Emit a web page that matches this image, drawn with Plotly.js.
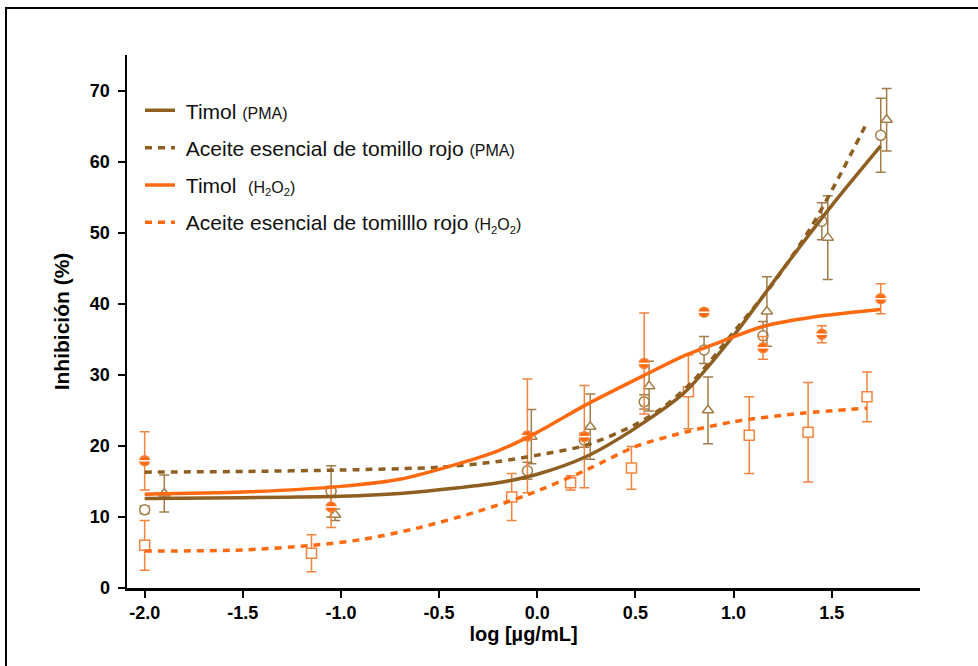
<!DOCTYPE html>
<html>
<head>
<meta charset="utf-8">
<script src="https://cdn.plot.ly/plotly-3.0.1.min.js"></script>
<style>
  html, body { margin: 0; padding: 0; background: #fff; }
  #chart { width: 978px; height: 666px; position: absolute; left: 0; top: 0; }
  #frame { position: absolute; left: 5px; top: 7px; width: 980px; height: 670px; border: 2px solid #000; pointer-events: none; box-sizing: border-box; }
</style>
</head>
<body>
<div id="chart"></div>
<div id="frame"></div>
<script>
// ---- Measured data points (mean ± error) ----
const timolPmaX   = [-2.0, -1.05, -0.05, 0.24, 0.545, 0.85, 1.15, 1.45, 1.75];
const timolPmaY   = [11.0, 13.6, 16.5, 20.8, 26.2, 33.5, 35.5, 51.6, 63.7];
const timolPmaErr = [0.5, 3.6, 1.2, 1.0, 1.0, 1.9, 2.0, 2.6, 5.2];

const aceitePmaX   = [-1.9, -1.03, -0.03, 0.27, 0.57, 0.87, 1.17, 1.48, 1.78];
const aceitePmaY   = [13.3, 10.3, 21.3, 22.7, 28.4, 25.0, 38.9, 49.3, 65.9];
const aceitePmaErr = [2.6, 0.8, 3.8, 4.6, 3.5, 4.7, 4.9, 5.9, 4.4];

const timolH2o2X   = [-2.0, -1.05, -0.05, 0.24, 0.545, 0.85, 1.15, 1.45, 1.75];
const timolH2o2Y   = [17.9, 11.4, 21.4, 21.3, 31.6, 38.8, 33.8, 35.7, 40.7];
const timolH2o2Err = [4.1, 2.9, 8.0, 7.2, 7.1, 0.4, 1.6, 1.2, 2.1];

const aceiteH2o2X   = [-2.0, -1.15, -0.13, 0.17, 0.48, 0.77, 1.08, 1.38, 1.68];
const aceiteH2o2Y   = [6.0, 4.9, 12.8, 14.8, 16.9, 27.6, 21.5, 21.9, 26.9];
const aceiteH2o2Err = [3.5, 2.6, 3.3, 1.0, 3.0, 5.2, 5.4, 7.0, 3.5];

// ---- Fitted curves ----
const fitTimolPmaX = [-2.0, -1.5, -1.0, -0.7, -0.4, -0.2, 0.0, 0.25, 0.5, 0.75, 1.0, 1.25, 1.5, 1.75];
const fitTimolPmaY = [12.6, 12.7, 12.9, 13.3, 14.1, 14.8, 16.0, 18.5, 22.5, 27.5, 35.5, 44.8, 53.8, 62.2];

const fitAceitePmaX = [-2.0, -1.5, -1.0, -0.5, -0.2, 0.0, 0.25, 0.5, 0.65, 0.8, 1.0, 1.2, 1.4, 1.55, 1.68];
const fitAceitePmaY = [16.3, 16.4, 16.6, 17.0, 17.8, 18.7, 20.1, 23.0, 25.6, 29.3, 36.0, 42.8, 51.0, 58.5, 65.5];

const fitTimolH2o2X = [-2.0, -1.5, -1.0, -0.7, -0.4, -0.2, 0.0, 0.25, 0.55, 0.75, 0.95, 1.15, 1.45, 1.75];
const fitTimolH2o2Y = [13.2, 13.5, 14.3, 15.3, 17.5, 19.3, 21.9, 25.8, 30.0, 32.7, 34.8, 36.8, 38.3, 39.2];

const fitAceiteH2o2X = [-2.0, -1.5, -1.15, -0.9, -0.6, -0.3, -0.05, 0.25, 0.5, 0.75, 1.0, 1.35, 1.68];
const fitAceiteH2o2Y = [5.2, 5.35, 6.0, 6.8, 8.5, 10.8, 13.1, 16.6, 19.9, 21.9, 23.4, 24.6, 25.3];

const xTicks = [-2.0, -1.5, -1.0, -0.5, 0.0, 0.5, 1.0, 1.5];
const xTickLabels = ['-2.0', '-1.5', '-1.0', '-0.5', '0.0', '0.5', '1.0', '1.5'];
const yTicks = [0, 10, 20, 30, 40, 50, 60, 70];

const SP = '\u00a0';
const legendNames = [
  SP + 'Timol <span style="font-size:16px">(PMA)</span>',
  SP + 'Aceite esencial de tomillo rojo <span style="font-size:16px">(PMA)</span>',
  SP + 'Timol  <span style="font-size:16px">(H<sub>2</sub>O<sub>2</sub>)</span>',
  SP + 'Aceite esencial de tomilllo rojo <span style="font-size:16px">(H<sub>2</sub>O<sub>2</sub>)</span>'
];

const BROWN = '#8f5f22';
const BROWN_L = '#a27d48';
const ORANGE = '#ff6a10';
const ORANGE_L = '#f5843f';

function pts(x, y, err, symbol, color, fill) {
  return {
    x: x, y: y, type: 'scatter', mode: 'markers', showlegend: false, hoverinfo: 'skip',
    marker: { symbol: symbol, size: 10, color: fill, line: { color: color, width: 1.5 } },
    error_y: { type: 'data', array: err, visible: true, color: color, thickness: 1.5, width: 5 }
  };
}
function curve(x, y, color, dash, name, grp, rank) {
  return {
    x: x, y: y, type: 'scatter', mode: 'lines', name: name, legendgroup: grp, legendrank: rank,
    line: { color: color, width: 3.5, dash: dash, shape: 'spline', smoothing: 0.8 },
    hoverinfo: 'skip'
  };
}

const data = [
  pts(aceiteH2o2X, aceiteH2o2Y, aceiteH2o2Err, 'square', ORANGE_L, '#ffffff'),
  pts(timolPmaX, timolPmaY, timolPmaErr, 'circle', BROWN_L, '#ffffff'),
  pts(aceitePmaX, aceitePmaY, aceitePmaErr, 'triangle-up', BROWN_L, '#ffffff'),
  pts(timolH2o2X, timolH2o2Y, timolH2o2Err, 'circle', ORANGE_L, ORANGE),
  { x: timolH2o2X, y: timolH2o2Y, type: 'scatter', mode: 'markers', showlegend: false, hoverinfo: 'skip',
    marker: { symbol: 'line-ew', size: 9, line: { color: '#ffffff', width: 1.5 } } },
  curve(fitTimolPmaX, fitTimolPmaY, BROWN, 'solid', legendNames[0], 'a', 1),
  curve(fitAceitePmaX, fitAceitePmaY, BROWN, '7px,6px', legendNames[1], 'b', 2),
  curve(fitTimolH2o2X, fitTimolH2o2Y, ORANGE, 'solid', legendNames[2], 'c', 3),
  curve(fitAceiteH2o2X, fitAceiteH2o2Y, ORANGE, '7px,6px', legendNames[3], 'd', 4)
];

const FAM = 'Liberation Sans, Arial, sans-serif';
const tickFont = { family: FAM, size: 18, color: '#000', weight: 'bold' };

const layout = {
  width: 978, height: 666,
  paper_bgcolor: '#ffffff', plot_bgcolor: '#ffffff',
  margin: { l: 127, r: 58, t: 55, b: 78, pad: 0 },
  font: { family: FAM, color: '#000' },
  showlegend: true,
  legend: {
    x: 0.0164, y: 0.934, xanchor: 'left', yanchor: 'top',
    bgcolor: 'rgba(0,0,0,0)', borderwidth: 0,
    font: { family: FAM, size: 21, color: '#111' },
    tracegroupgap: 7, itemwidth: 30
  },
  xaxis: {
    range: [-2.09, 1.95], tickvals: xTicks, ticktext: xTickLabels,
    showgrid: false, zeroline: false, showline: true, linecolor: '#000', linewidth: 2.5,
    ticks: 'outside', ticklen: 7, tickwidth: 2, tickcolor: '#000',
    tickfont: tickFont,
    title: { text: '<b>log [µg/mL]</b>', font: { family: FAM, size: 20, color: '#000' }, standoff: 2 }
  },
  yaxis: {
    range: [0, 75], tickvals: yTicks,
    showgrid: false, zeroline: false, showline: true, linecolor: '#000', linewidth: 2.5,
    ticks: 'outside', ticklen: 7, tickwidth: 2, tickcolor: '#000',
    ticklabelstandoff: 4,
    tickfont: tickFont,
    title: { text: '<b>Inhibición (%)</b>', font: { family: FAM, size: 21, color: '#000' }, standoff: 15 }
  }
};

Plotly.newPlot('chart', data, layout, { displayModeBar: false, staticPlot: true });
</script>
</body>
</html>
